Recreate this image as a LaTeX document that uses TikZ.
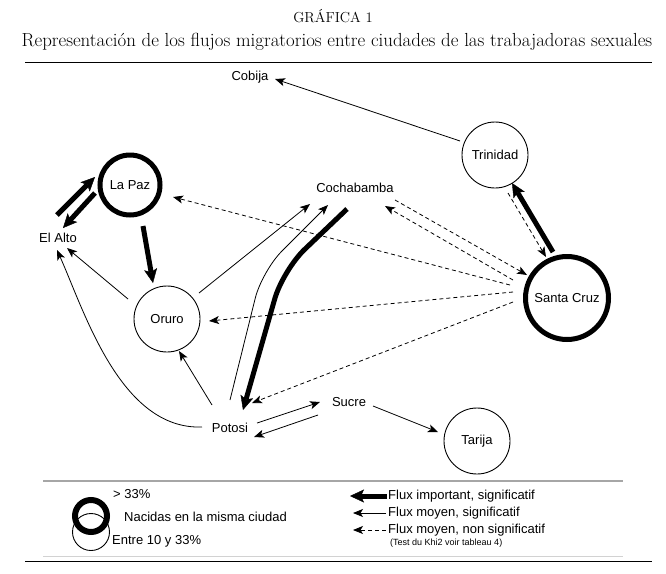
\documentclass[tikz,border=0pt]{standalone}
\usepackage{fontspec}
\setsansfont{Liberation Sans}
\usetikzlibrary{arrows.meta}

\begin{document}
\begin{tikzpicture}[x=1pt,y=-1pt,
  font=\sffamily\fontsize{13}{15}\selectfont,
  city/.style={circle,draw,line width=0.9pt,minimum size=66pt,inner sep=0pt},
  bigcity/.style={circle,draw,line width=5pt,inner sep=0pt},
  place/.style={inner sep=1pt},
  legtext/.style={anchor=west,inner sep=0pt},
  flow/.style={-{Stealth[length=10pt,width=8pt,inset=2.5pt]},line width=0.8pt},
  major/.style={-{Stealth[length=14pt,width=13pt,inset=3pt,line width=0.4pt]},line width=5pt},
  minor/.style={flow,dash pattern=on 4pt off 3pt}]
  \useasboundingbox (0,0) rectangle (666,573);
  % title
  \node (grafica) at (333,16) {\rmfamily\fontsize{14.5}{17}\selectfont GRÁFICA 1};
  \node (titulo) at (337,42) {\rmfamily\fontsize{18.9}{21}\selectfont Representación de los flujos migratorios entre ciudades de las trabajadoras sexuales};
  \draw[line width=1pt] (25,62) -- (652,62);
  % cities
  \node[bigcity,minimum size=60pt] (lapaz) at (130,185) {La Paz};
  \node[place] (elalto) at (58,238) {El Alto};
  \node[city] (oruro) at (167,319) {Oruro};
  \node[place] (cochabamba) at (355,188) {Cochabamba};
  \node[place] (potosi) at (230,428) {Potosi};
  \node[place] (sucre) at (349,402) {Sucre};
  \node[city] (tarija) at (477,441) {Tarija};
  \node[bigcity,minimum size=83pt] (santacruz) at (567,298) {Santa Cruz};
  \node[city] (trinidad) at (495,155) {Trinidad};
  \node[place] (cobija) at (250,77) {Cobija};
  % flows from the west
  \draw[major] ([shift={(-1,-23)}]elalto.center) -- ([shift={(-35,-8)}]lapaz.center);
  \draw[major] ([shift={(-35,8)}]lapaz.center) -- ([shift={(5,-10)}]elalto.center);
  \draw[major] ([shift={(13,41)}]lapaz.center) -- ([shift={(-14,-36)}]oruro.center);
  \draw[flow] ([shift={(-39,-20)}]oruro.center) -- ([shift={(9,10)}]elalto.center);
  \draw[flow] ([shift={(-28,-1)}]potosi.center) .. controls +(-82,3) and +(27,60) .. ([shift={(-1,12)}]elalto.center);
  \draw[flow] ([shift={(32,-26)}]oruro.center) -- ([shift={(-45,16)}]cochabamba.center);
  \draw[flow,rounded corners=28pt] ([shift={(0,-28)}]potosi.center) -- ++(32,-129) -- ([shift={(-27,17)}]cochabamba.center);
  \draw[major,rounded corners=30pt] ([shift={(-8,21)}]cochabamba.center) -- ++(-64,61) -- ([shift={(13,-18)}]potosi.center);
  \draw[flow] ([shift={(-18,-23)}]potosi.center) -- ([shift={(12,32)}]oruro.center);
  % flows from Santa Cruz
  \draw[minor] ([shift={(-57,-13)}]santacruz.center) -- ([shift={(43,12)}]lapaz.center);
  \draw[minor] ([shift={(-54,-6)}]santacruz.center) -- ([shift={(42,2)}]oruro.center);
  \draw[minor] ([shift={(-54,4)}]santacruz.center) -- ([shift={(22,-25)}]potosi.center);
  \draw[minor] ([shift={(40,12)}]cochabamba.center) -- ([shift={(-40,-23)}]santacruz.center);
  \draw[minor] ([shift={(-54,-18)}]santacruz.center) -- ([shift={(30,18)}]cochabamba.center);
  \draw[major] ([shift={(-14,-46)}]santacruz.center) -- ([shift={(17,28)}]trinidad.center);
  \draw[minor] ([shift={(13,38)}]trinidad.center) -- ([shift={(-21,-41)}]santacruz.center);
  \draw[flow] ([shift={(-35,-14)}]trinidad.center) -- ([shift={(25,2)}]cobija.center);
  % south
  \draw[flow] ([shift={(27,-5)}]potosi.center) -- ([shift={(-29,0)}]sucre.center);
  \draw[flow] ([shift={(-31,13)}]sucre.center) -- ([shift={(24,9)}]potosi.center);
  \draw[flow] ([shift={(24,4)}]sucre.center) -- ([shift={(-39,-9)}]tarija.center);
  % legend
  \draw[gray!70,line width=1.5pt] (43,481) -- (623,481);
  \draw[gray!35,line width=0.8pt] (43,556) -- (623,556);
  \draw[line width=1pt] (25,561) -- (652,561);
  \node[city,minimum size=37pt] (legsmall) at (91,532) {};
  \node[bigcity,line width=6pt,minimum size=32pt] (legbig) at (91,516) {};
  \node[legtext] (legover) at (113,494) {> 33\%};
  \node[legtext] (legborn) at (124,517) {Nacidas en la misma ciudad};
  \node[legtext] (legmid) at (112,541) {Entre 10 y 33\%};
  \node[legtext] (legmajor) at (388,496) {Flux important, significatif};
  \node[legtext] (legflow) at (388,513) {Flux moyen, significatif};
  \node[legtext] (legminor) at (388,530) {Flux moyen, non significatif};
  \node[legtext,font=\sffamily\fontsize{9}{11}\selectfont] (legtest) at (390,543) {(Test du Khi2 voir tableau 4)};
  \draw[major] ([xshift=-1pt]legmajor.west) -- ++(-37,0);
  \draw[flow] ([xshift=-2pt]legflow.west) -- ++(-33,0);
  \draw[minor] ([xshift=-2pt]legminor.west) -- ++(-33,0);
\end{tikzpicture}
\end{document}
